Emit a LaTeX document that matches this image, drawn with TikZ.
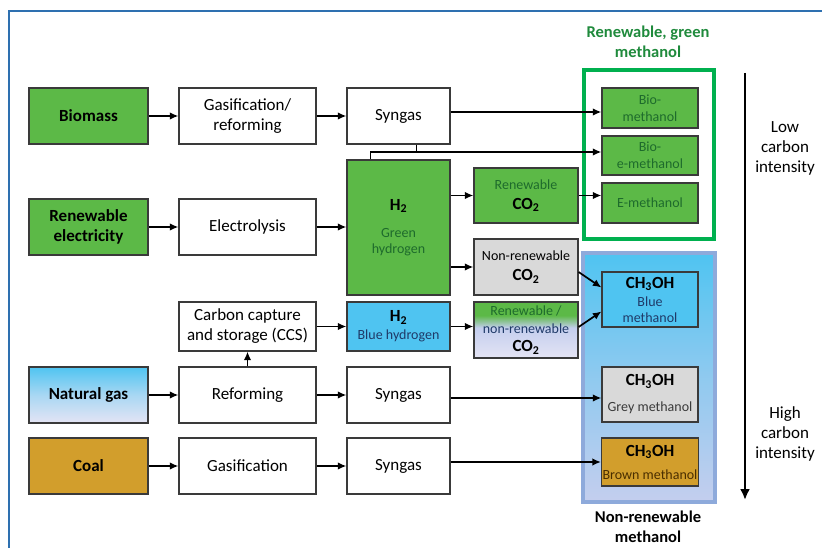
\documentclass[tikz,border=0pt]{standalone}
\usepackage{fontspec}
\setmainfont{Carlito}
\usetikzlibrary{arrows.meta}

\definecolor{leafgreen}{HTML}{5CB947}
\definecolor{darkleaf}{HTML}{1E6B2C}
\definecolor{titlegreen}{HTML}{1F8A3C}
\definecolor{framegreen}{HTML}{00B04F}
\definecolor{sky}{HTML}{4FC4F1}
\definecolor{lavender}{HTML}{E4E4F4}
\definecolor{lavmid}{HTML}{C4CEEE}
\definecolor{coalbrown}{HTML}{D29E2C}
\definecolor{greybox}{HTML}{D9D9D9}
\definecolor{boxline}{HTML}{3A3A3A}
\definecolor{frameblue}{HTML}{8EAADB}
\definecolor{borderblue}{HTML}{2E70B0}
\definecolor{navytext}{HTML}{1F3A68}
\definecolor{browntext}{HTML}{4A2E00}

% green on top, fading into lavender
\pgfdeclareverticalshading{mixco}{100bp}{color(0bp)=(lavender); color(25bp)=(lavender);
  color(52bp)=(lavmid); color(63bp)=(leafgreen); color(100bp)=(leafgreen)}

\newcommand{\smtxt}[1]{{\fontsize{14}{17}\selectfont #1}}
\newcommand{\chem}{\textbf{CH\textsubscript{3}OH}}

\begin{document}
\begin{tikzpicture}[x=1pt,y=-1pt,
  font=\fontsize{17}{20}\selectfont,
  box/.style={draw=boxline,line width=1.2pt,align=center,inner sep=1pt},
  src/.style={box,minimum width=119pt,minimum height=56pt,font=\fontsize{17}{20}\selectfont\bfseries},
  proc/.style={box,fill=white,minimum width=137pt,minimum height=56pt},
  gas/.style={box,fill=white,minimum width=103pt,minimum height=56pt},
  co/.style={box,minimum width=104pt,minimum height=56pt},
  meth/.style={box,minimum width=96pt,minimum height=40pt,text=darkleaf,fill=leafgreen},
  flow/.style={line width=1.7pt,-{Latex[length=8.5pt,width=7.5pt]}},
  bus/.style={line width=1.7pt},
  label/.style={align=center,font=\fontsize{16.5}{20}\selectfont\bfseries}]

\useasboundingbox (0,0) rectangle (822,548);
\draw[borderblue,line width=1.5pt] (9,548) -- (9,11) -- (822,11);

\draw[framegreen,line width=3.5pt] (584,70) rectangle (714,239);
\draw[frameblue,line width=3.5pt,top color=sky,bottom color=lavmid,middle color=sky!45!lavmid] (583,253) rectangle (715,502);

\node[label,text=titlegreen] (greentitle) at (648,42) {Renewable, green\\methanol};
\node[label] (greytitle) at (648,527) {Non-renewable\\methanol};

\node[src,fill=leafgreen] (bio) at (88.5,116) {Biomass};
\node[src,fill=leafgreen] (elecsrc) at (88.5,227) {Renewable\\electricity};
\node[src,top color=sky,bottom color=lavender,middle color=sky!40!lavender] (ng) at (88.5,395) {Natural gas};
\node[src,fill=coalbrown] (coal) at (88.5,466) {Coal};

\node[proc] (gasref) at (247.5,116) {Gasification/\\reforming};
\node[proc] (elys) at (247.5,227) {Electrolysis};
\node[proc,minimum height=49pt] (ccs) at (247.5,326.5) {Carbon capture\\and storage (CCS)};
\node[proc] (ref) at (247.5,395) {Reforming};
\node[proc] (gasif) at (247.5,466) {Gasification};

\node[gas] (syn1) at (398.5,116) {Syngas};
\node[gas,fill=leafgreen,minimum height=135pt] (h2g) at (398.5,227.5)
  {\textbf{H\textsubscript{2}}\\[7pt]\textcolor{darkleaf}{\smtxt{Green}}\\[-4pt]\textcolor{darkleaf}{\smtxt{hydrogen}}};
\node[gas,fill=sky,minimum height=49pt] (h2b) at (398.5,326.5)
  {\textbf{H\textsubscript{2}}\\[-2pt]\textcolor{navytext}{\smtxt{Blue hydrogen}}};
\node[gas] (syn2) at (398.5,395) {Syngas};
\node[gas] (syn3) at (398.5,466) {Syngas};

\node[co,fill=leafgreen,minimum height=55pt] (renco) at (526,195.5)
  {\textcolor{darkleaf}{\smtxt{Renewable}}\\\textbf{CO\textsubscript{2}}};
\node[co,fill=greybox] (nrco) at (526,267)
  {\smtxt{Non-renewable}\\\textbf{CO\textsubscript{2}}};
\node[co,shading=mixco] (mixco) at (526,330)
  {\textcolor{darkleaf}{\smtxt{Renewable /}}\\[-2pt]\textcolor{navytext}{\smtxt{non-renewable}}\\[-2pt]\textbf{CO\textsubscript{2}}};

\node[meth] (biometh) at (650,108) {\smtxt{Bio-}\\[-3pt]\smtxt{methanol}};
\node[meth,minimum height=39pt] (bioe) at (650,155.5) {\smtxt{Bio-}\\[-3pt]\smtxt{e-methanol}};
\node[meth] (emeth) at (650,203) {\smtxt{E-methanol}};
\node[meth,fill=sky,text=black,minimum height=55pt] (bluemeth) at (650,299.5)
  {\chem\\[-2pt]\textcolor{navytext}{\smtxt{Blue}}\\[-4pt]\textcolor{navytext}{\smtxt{methanol}}};
\node[meth,fill=greybox,text=black,minimum height=55pt] (grey) at (650,394.5)
  {\chem\\[6pt]\textcolor{boxline}{\smtxt{Grey methanol}}};
\node[meth,fill=coalbrown,text=black,minimum height=48pt] (brown) at (650,462)
  {\chem\\[3pt]\textcolor{browntext}{\smtxt{Brown methanol}}};

\draw[flow] (bio) -- (gasref);
\draw[flow] (gasref) -- (syn1);
\draw[flow] ([yshift=4pt]syn1.east) -- ([yshift=4pt]syn1.east -| biometh.west);
\draw[flow] ([xshift=-28pt]h2g.north) |- ([yshift=3.5pt]bioe.west);
\draw[bus] ([xshift=18pt]syn1.south) -- ([xshift=18pt,yshift=3.5pt]syn1.south |- bioe.west);

\draw[flow] (elecsrc) -- (elys);
\draw[flow] (elys.east) -- (elys.east -| h2g.west);
\draw[flow] (h2g.east |- renco) -- (renco.west);
\draw[flow] (h2g.east |- nrco) -- (nrco.west);
\draw[flow] (renco.east) -- (renco.east -| emeth.west);
\draw[flow] ([yshift=-5pt]nrco.east) -- ([yshift=12pt]bluemeth.west);

\draw[flow] (ref) -- (ccs);
\draw[flow] (ccs) -- (h2b);
\draw[flow] (h2b.east) -- (h2b.east -| mixco.west);
\draw[flow] ([yshift=3pt]mixco.east) -- ([yshift=-12pt]bluemeth.west);

\draw[flow] (ng) -- (ref);
\draw[flow] (ref) -- (syn2);
\draw[flow] ([yshift=-3pt]syn2.east) -- ([yshift=-3pt]syn2.east -| grey.west);

\draw[flow] (coal) -- (gasif);
\draw[flow] (gasif) -- (syn3);
\draw[flow] ([yshift=4pt]syn3.east) -- ([yshift=4pt]syn3.east -| brown.west);

% carbon intensity scale
\coordinate (lowend) at (745,73);
\coordinate (highend) at (745,500);
\draw[line width=2.6pt,-{Latex[length=11pt,width=10pt]}] (lowend) -- (highend);
\node[align=center] (lowci) at (785,148) {Low\\carbon\\intensity};
\node[align=center] (highci) at (785,434) {High\\carbon\\intensity};
\end{tikzpicture}
\end{document}
